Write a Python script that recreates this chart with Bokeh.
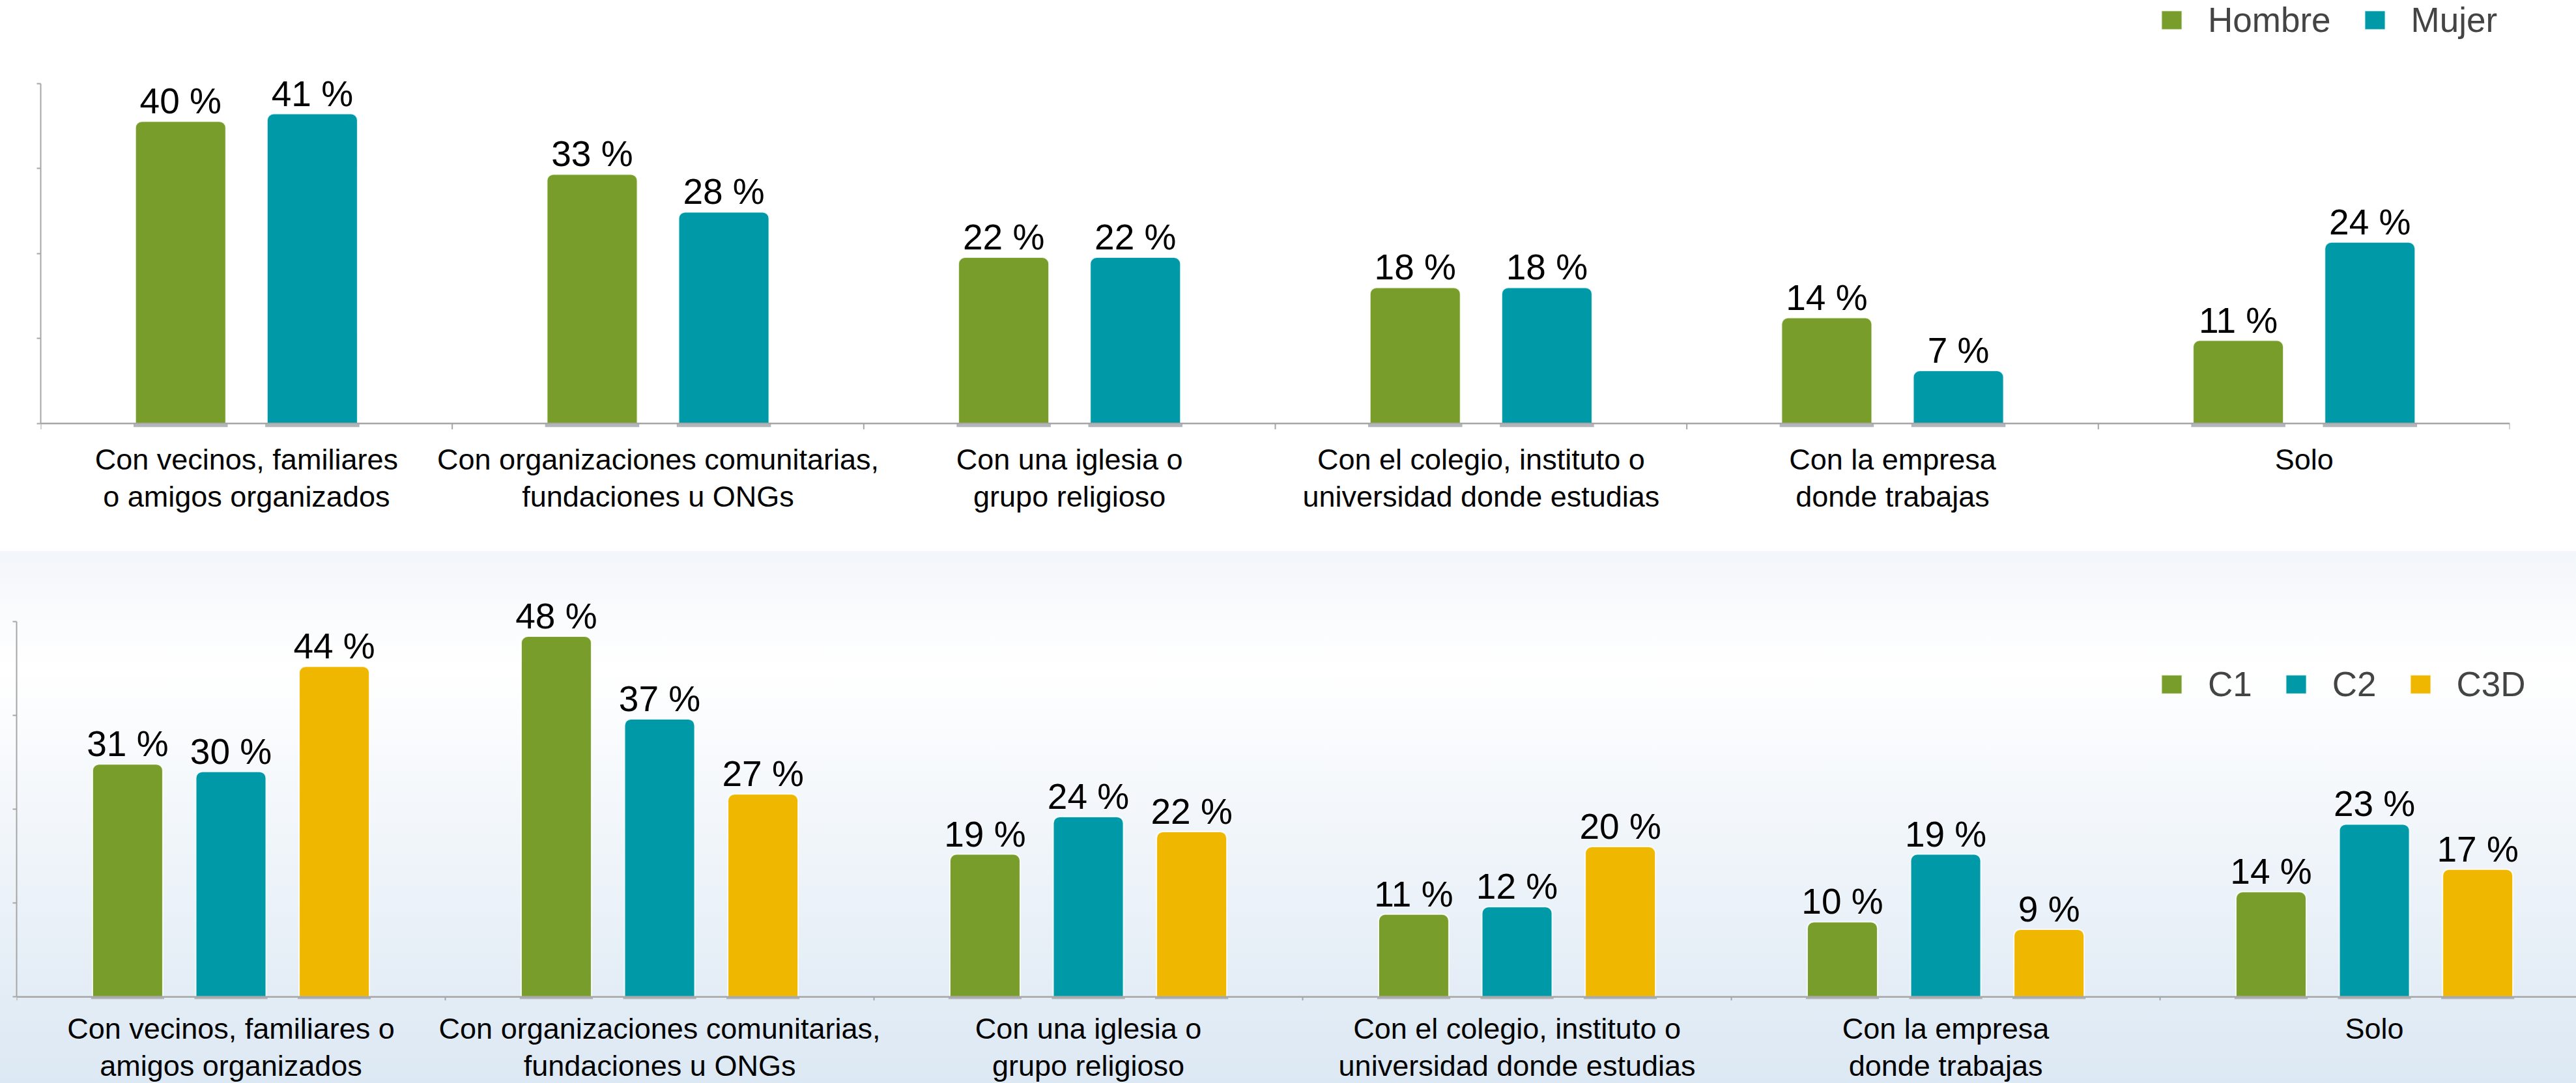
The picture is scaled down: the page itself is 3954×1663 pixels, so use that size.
from bokeh.plotting import figure
from bokeh.layouts import column
from bokeh.models import (ColumnDataSource, Range1d, FixedTicker, Span, Legend, LegendItem,
                          CustomJSTickFormatter)
from bokeh.core.properties import value
from bokeh.embed import file_html
from bokeh.resources import INLINE

# ---------------- data ----------------
cats_top = [
    "Con vecinos, familiares\no amigos organizados",
    "Con organizaciones comunitarias,\nfundaciones u ONGs",
    "Con una iglesia o\ngrupo religioso",
    "Con el colegio, instituto o\nuniversidad donde estudias",
    "Con la empresa\ndonde trabajas",
    "Solo",
]
hombre = [40, 33, 22, 18, 14, 11]
mujer = [41, 28, 22, 18, 7, 24]

cats_bot = [
    "Con vecinos, familiares o\namigos organizados",
    "Con organizaciones comunitarias,\nfundaciones u ONGs",
    "Con una iglesia o\ngrupo religioso",
    "Con el colegio, instituto o\nuniversidad donde estudias",
    "Con la empresa\ndonde trabajas",
    "Solo",
]
c1 = [31, 48, 19, 11, 10, 14]
c2 = [30, 37, 24, 12, 19, 23]
c3d = [44, 27, 22, 20, 9, 17]

top_series = ["Hombre", "Mujer"]
bot_series = ["C1", "C2", "C3D"]

GREEN = "#789d2a"
TEAL = "#0099a7"
YELLOW = "#f0b700"
AXIS = "#a6a6a6"
SHADOW = "#b2b5b9"
FONT = "Liberation Sans"


def make_chart(cats, series_names, series_vals, colors, offsets, bar_w, ymax, ystart, yend,
               xend, frame_w, frame_h, mb_left, mb_right, mb_bottom, standoff, legend_loc,
               bg=None):
    n = len(cats)
    p = figure(x_range=Range1d(0, xend), y_range=Range1d(ystart, yend),
               frame_width=frame_w, frame_height=frame_h,
               output_backend="svg", toolbar_location=None,
               min_border_left=mb_left, min_border_right=mb_right,
               min_border_top=0, min_border_bottom=mb_bottom)
    p.frame_align = False
    p.grid.visible = False
    p.outline_line_color = None
    if bg is not None:
        p.background_fill_color = None
        p.border_fill_color = None
        p.styles = {"background": bg}
    else:
        p.background_fill_color = "white"
        p.border_fill_color = "white"

    items = []
    for name, vals, col, off in zip(series_names, series_vals, colors, offsets):
        xs = [i + 0.5 + off for i in range(n)]
        src = ColumnDataSource(dict(x=xs, val=vals, lab=[f"{v} %" for v in vals]))
        p.vbar(x="x", top=0, bottom=ystart * 0.6, width=bar_w * 1.04, source=src,
               fill_color=SHADOW, line_color=None)
        r = p.vbar(x="x", top="val", bottom=0, width=bar_w, source=src,
                   fill_color=col, line_color="white", line_alpha=0.85, line_width=2,
                   border_radius=(10, 10, 0, 0))
        p.text(x="x", y="val", text="lab", source=src,
               text_align="center", text_baseline="alphabetic", y_offset=-31,
               text_font=value(FONT), text_font_size="55px", text_color="black")
        items.append(LegendItem(label=name, renderers=[r]))

    # category boundary ticks
    bnd = list(range(n + 1))
    p.segment(x0=bnd, y0=[0] * len(bnd), x1=bnd, y1=[ystart] * len(bnd),
              line_color=AXIS, line_width=2)
    p.add_layout(Span(location=0, dimension="width", line_color=AXIS, line_width=2.5))

    xa = p.xaxis[0]
    xa.ticker = FixedTicker(ticks=[i + 0.5 for i in range(n)])
    xa.formatter = CustomJSTickFormatter(args=dict(labels=cats),
                                         code="return labels[Math.floor(tick)]")
    xa.axis_line_color = None
    xa.major_tick_line_color = None
    xa.minor_tick_line_color = None
    xa.major_tick_out = 0
    xa.major_tick_in = 0
    xa.minor_tick_out = 0
    xa.major_label_text_font = FONT
    xa.major_label_text_font_size = "45px"
    xa.major_label_text_color = "black"
    xa.major_label_text_line_height = 1.12
    xa.major_label_standoff = standoff

    ya = p.yaxis[0]
    ya.bounds = (0, ymax)
    ya.ticker = FixedTicker(ticks=[ymax * k / 4 for k in range(5)])
    ya.formatter = CustomJSTickFormatter(code="return ''")
    ya.axis_line_color = AXIS
    ya.axis_line_width = 2
    ya.major_tick_line_color = AXIS
    ya.major_tick_line_width = 2
    ya.major_tick_out = 6
    ya.major_tick_in = 0
    ya.minor_tick_line_color = None
    ya.minor_tick_out = 0
    ya.major_label_standoff = 0

    leg = Legend(items=items, orientation="horizontal", location=legend_loc,
                 glyph_width=40, glyph_height=37, label_text_font=FONT,
                 label_text_font_size="53px", label_standoff=36, spacing=47,
                 padding=0, margin=0, border_line_color=None,
                 background_fill_alpha=0)
    p.add_layout(leg)
    return p


# top chart: frame page x 62..3852, y 0..659 ; baseline at 650
p1 = make_chart(cats_top, top_series, [hombre, mujer], [GREEN, TEAL],
                [-0.16, 0.16], 0.22, 45, -0.8, 56.01, 6, 3790, 659, 62, 102, 187, 20,
                (3251, 598))
# bottom chart: frame page x 25..3954, y 846..1536 ; baseline at 1530 (last category cut)
p2 = make_chart(cats_bot, bot_series, [c1, c2, c3d], [GREEN, TEAL, YELLOW],
                [-0.241, 0.0, 0.241], 0.164, 50, -0.5, 59.32, 5.971, 3929, 690, 25, 0, 127, 17,
                (3288, 455),
                bg="linear-gradient(to bottom, #f3f6fa 0%, #ffffff 22%, #eaf1f8 68%, #dce8f3 100%)")

layout = column(p1, p2, spacing=0)
open("out.html", "w").write(file_html(layout, INLINE))
